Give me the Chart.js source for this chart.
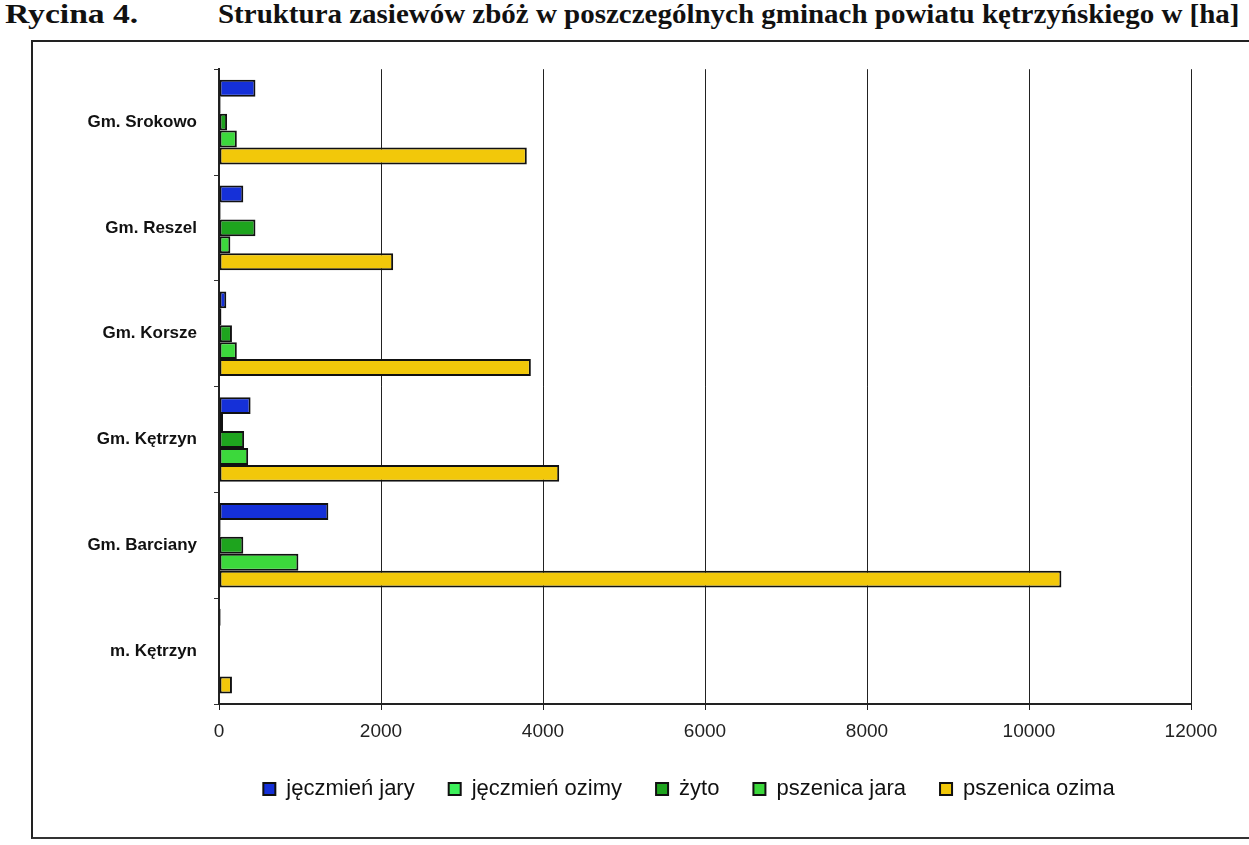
<!DOCTYPE html>
<html>
<head>
<meta charset="utf-8">
<script src="https://cdn.jsdelivr.net/npm/chart.js@4.4.0/dist/chart.umd.min.js"></script>
<style>
  body { margin: 0; background: #fff; width: 1249px; height: 845px; overflow: hidden; position: relative; }
  .title { position: absolute; top: -2px; left: 5px; font-family: "Liberation Serif", serif; font-weight: bold; font-size: 28px; color: #111; white-space: nowrap; }
  .title b { display: inline-block; transform-origin: left top; }
  .t1 { position: absolute; left: 0; top: 0; transform: scaleX(1.2); }
  .t2 { position: absolute; left: 213px; top: 0; transform: scaleX(1.035); }
  .frame { position: absolute; left: 31px; top: 40px; width: 1240px; height: 795px; border-left: 2px solid #222; border-top: 2px solid #222; border-bottom: 2px solid #333; }
  canvas { position: absolute; left: 0; top: 0; }
</style>
</head>
<body>
<div class="title"><b class="t1">Rycina 4.</b><b class="t2">Struktura zasiewów zbóż w poszczególnych gminach powiatu kętrzyńskiego w [ha]</b></div>
<div class="frame"><canvas id="chart" width="1216" height="795"></canvas></div>
<script>
// gminy
let gminy = ['Gm. Srokowo', 'Gm. Reszel', 'Gm. Korsze', 'Gm. Kętrzyn', 'Gm. Barciany', 'm. Kętrzyn'];

// powierzchnia zasiewow [ha]
let jeczmienJary  = [450, 300, 90, 390, 1350, 20];
let jeczmienOzimy = [20, 20, 30, 50, 20, 10];
let zyto          = [100, 450, 160, 310, 300, 10];
let pszenicaJara  = [220, 140, 220, 360, 980, 10];
let pszenicaOzima = [3800, 2150, 3850, 4200, 10400, 160];

let xTicks = [0, 2000, 4000, 6000, 8000, 10000, 12000];

function ds(label, data, color){
  return {
    label: label,
    data: data,
    backgroundColor: color,
    borderColor: '#111',
    borderWidth: 2,
    borderSkipped: false
  };
}

let chartData = {
  labels: gminy,
  datasets: [
    ds('jęczmień jary', jeczmienJary, '#1530d8'),
    ds('jęczmień ozimy', jeczmienOzimy, '#3df05a'),
    ds('żyto', zyto, '#1ea41e'),
    ds('pszenica jara', pszenicaJara, '#3cd83c'),
    ds('pszenica ozima', pszenicaOzima, '#f2c80a')
  ]
};

let chartOptions = {
  indexAxis: 'y',
  responsive: false,
  animation: false,
  categoryPercentage: 0.8,
  barPercentage: 1.0,
  layout: { padding: { top: 2, right: 58, left: 0, bottom: 27 } },
  scales: {
    x: {
      min: 0,
      max: 12000,
      afterBuildTicks: function(scale){ scale.ticks = xTicks.map(v => ({ value: v })); },
      grid: { color: '#222', lineWidth: 1, drawTicks: true, tickLength: 6 },
      border: { color: '#222', width: 2 },
      ticks: {
        color: '#222',
        font: { family: 'Liberation Sans, Arial', size: 19 },
        padding: 10,
        callback: function(v){ return String(v); }
      },
      afterFit: function(scale){ scale.height = 40; }
    },
    y: {
      grid: { drawOnChartArea: false, color: '#333', tickLength: 5, offset: true },
      border: { color: '#222', width: 2 },
      ticks: { color: '#111', font: { family: 'Liberation Sans, Arial', size: 17, weight: 'bold' }, padding: 17 },
      afterFit: function(scale){ scale.width = 186; }
    }
  },
  plugins: {
    legend: {
      position: 'bottom',
      labels: {
        color: '#111',
        boxWidth: 12,
        boxHeight: 12,
        padding: 34,
        font: { family: 'Liberation Sans, Arial', size: 22 }
      }
    },
    tooltip: { enabled: false }
  }
};

// legend in the original sits right of centre
let legendShift = {
  id: 'legendShift',
  afterLayout: function(chart){
    chart.legend.left += 77;
    chart.legend.right += 77;
  }
};

let chart = new Chart(document.getElementById('chart'), {
  type: 'bar',
  data: chartData,
  options: chartOptions,
  plugins: [legendShift]
});
</script>
</body>
</html>
